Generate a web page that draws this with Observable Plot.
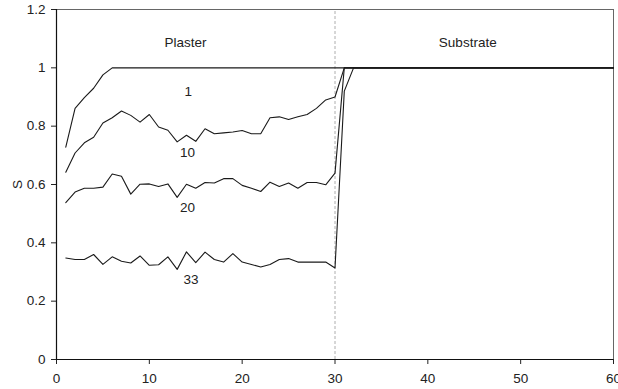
<!DOCTYPE html>
<html><head><meta charset="utf-8">
<script src="https://cdn.jsdelivr.net/npm/d3@7"></script>
<script src="https://cdn.jsdelivr.net/npm/@observablehq/plot@0.6"></script>
<style>body{margin:0;background:#fff;} svg{display:block;}</style>
</head><body><div id="chart"></div>
<script>
const depth = [1,2,3,4,5,6,7,8,9,10,11,12,13,14,15,16,17,18,19,20,21,22,23,24,25,26,27,28,29,30,
  31,32,33,34,35,36,37,38,39,40,41,42,43,44,45,46,47,48,49,50,51,52,53,54,55,56,57,58,59,60];
const s1 = [0.728,0.861,0.898,0.930,0.976,1,1,1,1,1,1,1,1,1,1,1,1,1,1,1,1,1,1,1,1,1,1,1,1,1,
  1,1,1,1,1,1,1,1,1,1,1,1,1,1,1,1,1,1,1,1,1,1,1,1,1,1,1,1,1,1];
const s10 = [0.642,0.708,0.743,0.762,0.811,0.829,0.852,0.837,0.814,0.840,0.797,0.786,0.746,0.769,0.748,
  0.791,0.774,0.777,0.780,0.785,0.774,0.774,0.829,0.832,0.823,0.832,0.840,0.861,0.890,0.900,
  1,1,1,1,1,1,1,1,1,1,1,1,1,1,1,1,1,1,1,1,1,1,1,1,1,1,1,1,1,1];
const s20 = [0.538,0.574,0.587,0.587,0.591,0.636,0.628,0.567,0.601,0.602,0.593,0.602,0.556,0.601,0.587,
  0.607,0.605,0.620,0.620,0.597,0.587,0.576,0.608,0.593,0.605,0.587,0.607,0.607,0.599,0.639,
  1,1,1,1,1,1,1,1,1,1,1,1,1,1,1,1,1,1,1,1,1,1,1,1,1,1,1,1,1,1];
const s33 = [0.348,0.343,0.343,0.360,0.326,0.352,0.337,0.331,0.355,0.323,0.325,0.352,0.309,0.369,0.332,
  0.368,0.343,0.334,0.363,0.334,0.326,0.317,0.326,0.343,0.346,0.334,0.334,0.334,0.334,0.314,
  0.920,1,1,1,1,1,1,1,1,1,1,1,1,1,1,1,1,1,1,1,1,1,1,1,1,1,1,1,1,1];
const seriesNames = ["1","10","20","33"];
const seriesValues = [s1, s10, s20, s33];
const curveLabelX = [14.2, 14.1, 14.1, 14.5];
const curveLabelY = [0.918, 0.708, 0.522, 0.272];
const regionNames = ["Plaster", "Substrate"];
const regionX = [13.9, 44.3];
const regionY = [1.087, 1.087];
const boundary = [30];
const xTicks = [0,10,20,30,40,50,60];
const yTicks = [0,0.2,0.4,0.6,0.8,1,1.2];

const rows = [];
seriesNames.forEach((n, k) => depth.forEach((x, i) => rows.push({series: n, x, s: seriesValues[k][i]})));
const curveLabels = seriesNames.map((n, k) => ({text: n, x: curveLabelX[k], y: curveLabelY[k]}));
const regionLabels = regionNames.map((n, k) => ({text: n, x: regionX[k], y: regionY[k]}));

const chart = Plot.plot({
  width: 618, height: 389,
  marginLeft: 56, marginRight: 5, marginTop: 9, marginBottom: 30,
  style: {fontFamily: "'Liberation Sans', Arial, sans-serif", fontSize: "13.5px", color: "#222", background: "#fff"},
  x: {domain: [0, 60]},
  y: {domain: [0, 1.2]},
  marks: [
    Plot.frame({stroke: "#666", strokeWidth: 1}),
    Plot.ruleX(boundary, {y1: 0, y2: 1.2, stroke: "#999", strokeWidth: 0.8, strokeDasharray: "3,2"}),
    Plot.line(rows, {x: "x", y: "s", z: "series", stroke: "#1a1a1a", strokeWidth: 1.1}),
    Plot.text(curveLabels, {x: "x", y: "y", text: "text", fill: "#222"}),
    Plot.text(regionLabels, {x: "x", y: "y", text: "text", fill: "#222"}),
    Plot.axisX({ticks: xTicks, tickSize: 5, tickPadding: 9, tickFormat: d => String(d), label: null}),
    Plot.axisY({ticks: yTicks, tickSize: 5, tickPadding: 6, tickFormat: d => String(+d.toFixed(1)),
      label: "S", labelAnchor: "center", labelArrow: "none", labelOffset: 44}),
    Plot.ruleY([0], {stroke: "#111", strokeWidth: 1.2}),
    Plot.ruleX([0], {stroke: "#111", strokeWidth: 1.2})
  ]
});
document.getElementById("chart").appendChild(chart);
</script>
</body></html>
